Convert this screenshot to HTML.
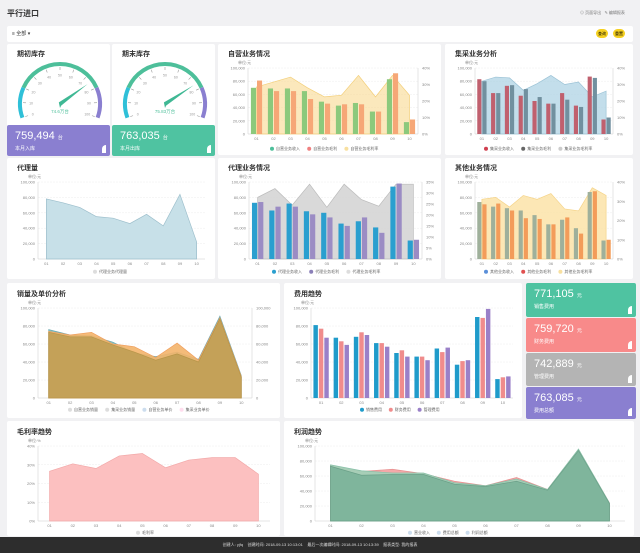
<!DOCTYPE html>
<html><head><meta charset="utf-8">
<style>
body{margin:0;width:640px;height:553px;background:#f1f1f3;font-family:"Liberation Sans","Noto Sans CJK SC",sans-serif;position:relative;overflow:hidden}
.card{position:absolute;background:#fff;border-radius:2px}
.t{position:absolute;font-size:7px;font-weight:bold;color:#333}
.kpi{position:absolute;color:#fff;border-radius:2px}
.kpi b{position:absolute;left:8px;top:5px;font-size:11px;font-weight:normal}
.kpi b small{font-size:5px}
.kpi span{position:absolute;left:8px;top:20px;font-size:5px}
.kpi i{position:absolute;right:4px;bottom:3px;width:4px;height:8px;background:#fff;border-radius:4px 0 0 0}
svg{position:absolute;left:0;top:0}
</style></head><body>
<div class="t" style="left:7px;top:8px;font-size:8px">平行进口</div>
<div style="position:absolute;left:580px;top:10px;font-size:4px;color:#777">⊙ 页面导出 &nbsp; ✎ 编辑报表</div>
<div class="card" style="left:7px;top:26px;width:626px;height:16px"></div>
<div style="position:absolute;left:12px;top:30px;font-size:5px;color:#333">≡ 全部 ▾</div>
<div style="position:absolute;left:596px;top:29px;width:12px;height:9px;background:#f5d020;border-radius:5px;font-size:4px;text-align:center;line-height:9px">查询</div>
<div style="position:absolute;left:613px;top:29px;width:12px;height:9px;background:#f5d020;border-radius:5px;font-size:4px;text-align:center;line-height:9px">重置</div>

<div class="card" style="left:7px;top:44px;width:103px;height:112px"></div>
<div class="card" style="left:112px;top:44px;width:103px;height:112px"></div>
<div class="card" style="left:218px;top:44px;width:223px;height:111px"></div>
<div class="card" style="left:445px;top:44px;width:188px;height:111px"></div>
<div class="card" style="left:7px;top:158px;width:208px;height:121px"></div>
<div class="card" style="left:218px;top:158px;width:223px;height:121px"></div>
<div class="card" style="left:445px;top:158px;width:188px;height:121px"></div>
<div class="card" style="left:7px;top:283px;width:273px;height:135px"></div>
<div class="card" style="left:284px;top:283px;width:238px;height:135px"></div>
<div class="card" style="left:7px;top:421px;width:273px;height:115px"></div>
<div class="card" style="left:284px;top:421px;width:350px;height:115px"></div>

<div class="t" style="left:17px;top:49px">期初库存</div>
<div class="t" style="left:122px;top:49px">期末库存</div>
<div class="t" style="left:228px;top:49px">自营业务情况</div>
<div class="t" style="left:455px;top:49px">集采业务分析</div>
<div class="t" style="left:17px;top:163px">代理量</div>
<div class="t" style="left:228px;top:163px">代理业务情况</div>
<div class="t" style="left:455px;top:163px">其他业务情况</div>
<div class="t" style="left:17px;top:289px">销量及单价分析</div>
<div class="t" style="left:294px;top:289px">费用趋势</div>
<div class="t" style="left:17px;top:427px">毛利率趋势</div>
<div class="t" style="left:294px;top:427px">利润趋势</div>

<div class="kpi" style="left:7px;top:125px;width:103px;height:31px;background:#8a7fd0"><b>759,494 <small>台</small></b><span>本月入库</span><i></i></div>
<div class="kpi" style="left:112px;top:125px;width:103px;height:31px;background:#4fc3a1"><b>763,035 <small>台</small></b><span>本月出库</span><i></i></div>
<div class="kpi" style="left:526px;top:283px;width:110px;height:34px;background:#4fc3a1"><b>771,105 <small>元</small></b><span>销售费用</span><i></i></div>
<div class="kpi" style="left:526px;top:318px;width:110px;height:34px;background:#f88a8a"><b>759,720 <small>元</small></b><span>财务费用</span><i></i></div>
<div class="kpi" style="left:526px;top:353px;width:110px;height:33px;background:#b4b4b4"><b>742,889 <small>元</small></b><span>管理费用</span><i></i></div>
<div class="kpi" style="left:526px;top:387px;width:110px;height:32px;background:#8a7fd0"><b>763,085 <small>元</small></b><span>费用总额</span><i></i></div>

<div style="position:absolute;left:0;top:537px;width:640px;height:16px;background:#2d2d2d;color:#ddd;font-size:4px;text-align:center;line-height:16px">创建人: yjfq &nbsp;&nbsp; 创建时间: 2018-09-13 10:13:01 &nbsp;&nbsp; 最后一次编辑时间: 2018-09-13 10:13:39 &nbsp;&nbsp; 报表类型: 我的报表</div>

<svg id="charts" width="640" height="553"></svg>
<script>
const cats=['01','02','03','04','05','06','07','08','09','10'];
const numTicks=['0','20,000','40,000','60,000','80,000','100,000'];
const pct40Ticks=['0%','10%','20%','30%','40%'];
const pct35Ticks=['0%','5%','10%','15%','20%','25%','30%','35%'];
const gaugeValues=[74.6,75.83];
const gaugeTicks=['0','10','20','30','40','50','60','70','80','90','100'];
const selfIncome=[70,69,69,65,49,43,47,34,83,18];
const selfCost=[81,65,65,53,46,45,45,34,92,22];
const selfMargin=[28.5,31.5,34.5,28,22.5,23.5,35.5,22.5,35.5,23.5];
const cpIncome=[83,62,73,58,50,46,62,43,87,22];
const cpCost=[80,62,74,68,56,46,52,41,85,25];
const cpMargin=[32,34.5,34,26.5,30.5,35.5,30,31.5,22.5,26];
const agencyVolume=[78,73,67,55,53,46,58,43,84,22];
const agIncome=[73,63,72,62,60,46,49,41,94,24];
const agCost=[74,68,68,58,54,43,54,34,98,25];
const agMargin=[28,32,24.5,34,23.5,34,27,24,34,34];
const otIncome=[74,68,66,63,57,45,51,40,87,24];
const otCost=[71,72,63,53,52,45,54,33,88,25];
const otMargin=[31,32,27,33,31,34,26,25,37,33];
const salesA=[76,70,69,62,50,46,51,43,91,25];
const salesB=[74,70,73,60,57,45,61,42,89,24];
const salesC=[73,68,68,59,51,42,49,40,88,23];
const expSales=[81,67,68,61,50,46,55,37,90,21];
const expFin=[77,63,73,61,53,46,51,41,89,23];
const expAdm=[67,59,70,57,46,42,56,42,99,24];
const marginRate=[26.5,30.5,28,34.7,36,28.4,32.5,33.8,33.8,25];
const profitA=[75,67,64,64,51,47,56,42,96,24];
const profitB=[74,66,69,63,53,47,58,42,95,24];
const profitC=[73,61,62,62,49,46,53,41,94,23];

const NS='http://www.w3.org/2000/svg';
const svg=document.getElementById('charts');
function mk(tag,attrs,parent){const e=document.createElementNS(NS,tag);for(const k in attrs)e.setAttribute(k,attrs[k]);(parent||svg).appendChild(e);return e;}
function xc(b,i){return b.l+(i+0.5)*(b.r-b.l)/cats.length;}
function yv(b,v,m){return b.b-v/m*(b.b-b.t);}
function axes(b,left,right){
  const g=mk('g',{});
  
  
  left.forEach((lab,i)=>{
    const y=b.b-i*(b.b-b.t)/(left.length-1);
    const ln=mk('line',{x1:b.l,x2:b.r,y1:y,y2:y,stroke:i?'#eee':'#ccc','stroke-width':0.5,'stroke-dasharray':i?'2,1':''},g);
    
    
    const t=mk('text',{x:b.l-3,y:y+1.5,'font-size':4,'text-anchor':'end',fill:'#888'},g);t.textContent=lab;
    
    
  });
  if(right){right.forEach((lab,i)=>{
    const y=b.b-i*(b.b-b.t)/(right.length-1);
    const t=mk('text',{x:b.r+4,y:y+1.5,'font-size':4,fill:'#888'},g);t.textContent=lab;
    
    
  });
  const rl=mk('line',{x1:b.r,x2:b.r,y1:b.t,y2:b.b,stroke:'#ccc','stroke-width':0.5},g);
  
  }
  const al=mk('line',{x1:b.l,x2:b.l,y1:b.t,y2:b.b,stroke:'#ccc','stroke-width':0.5},g);
  
  
  cats.forEach((c,i)=>{const t=mk('text',{x:xc(b,i),y:b.b+6,'font-size':4,'text-anchor':'middle',fill:'#888'},g);t.textContent=c;
    
    });
  const u=mk('text',{x:b.l-10,y:b.t-4,'font-size':4,fill:'#888'},g);u.textContent=b.unit||'单位:元';
  
  
}
function bars(b,vals,k,n,color,name,m){
  const gw=(b.r-b.l)/cats.length, bw=gw*(n==3?0.22:0.3);
  vals.forEach((v,i)=>{
    const x=xc(b,i)-n*bw/2-(n-1)*0.5+k*(bw+1);
    const r=mk('rect',{x:x,y:yv(b,v,m||100),width:bw,height:b.b-yv(b,v,m||100),fill:color});
    
    
  });
}
function area(b,vals,m,fill,stroke,op,name){
  let d='M'+xc(b,0)+','+b.b;
  vals.forEach((v,i)=>{d+=' L'+xc(b,i)+','+yv(b,v,m);});
  d+=' L'+xc(b,vals.length-1)+','+b.b+' Z';
  const p=mk('path',{d:d,fill:fill,'fill-opacity':op,stroke:stroke,'stroke-width':0.7});
  
  
}
function legend(x,y,items){
  let cx=x;
  items.forEach(it=>{
    const c=mk('circle',{cx:cx,cy:y-1.3,r:2,fill:it[1]});
    
    
    const t=mk('text',{x:cx+4,y:y,'font-size':4,fill:'#666'});t.textContent=it[0];
    
    
    cx+=it[0].length*4.2+12;
  });
}
// gauges
[[60,104,0],[165,104,1]].forEach(([cx,cy,k])=>{
  const r=40, a0=200, a1=-20, v=gaugeValues[k];
  const pt=(a,rr)=>[cx+rr*Math.cos(a*Math.PI/180),cy-rr*Math.sin(a*Math.PI/180)];
  const segs=[[0,0.2,'#2fc0d8'],[0.2,0.8,'#4dbf9a'],[0.8,1,'#8a7fd0']];
  segs.forEach(s=>{const p0=pt(a0-(a0-a1)*s[0],r),p1=pt(a0-(a0-a1)*s[1],r);
    const arc=mk('path',{d:`M${p0[0]},${p0[1]} A${r},${r} 0 0 1 ${p1[0]},${p1[1]}`,fill:'none',stroke:s[2],'stroke-width':4});
    
    });
  gaugeTicks.forEach((tk,i)=>{const a=a0-(a0-a1)*i/10,p0=pt(a,r-3),p1=pt(a,r-6),pl=pt(a,r-11);
    const l=mk('line',{x1:p0[0],y1:p0[1],x2:p1[0],y2:p1[1],stroke:'#999','stroke-width':0.6});
    
    
    const t=mk('text',{x:pl[0],y:pl[1]+1.5,'font-size':3.5,'text-anchor':'middle',fill:'#999'});t.textContent=tk;
    
    });
  const a=a0-(a0-a1)*v/100,tip=pt(a,r-6),s1=pt(a+90,2),s2=pt(a-90,2);
  const n=mk('path',{d:`M${tip[0]},${tip[1]} L${s1[0]},${s1[1]} L${cx},${cy+4} L${s2[0]},${s2[1]} Z`,fill:'#3fb894'});
  
  
  const t=mk('text',{x:cx,y:cy+9,'font-size':4.5,'text-anchor':'middle',fill:'#4dbf9a'});t.textContent=v+'万台';
  
  
});
// C1
let b={l:248,r:418,t:68,b:134,name:'self'};
axes(b,numTicks,pct40Ticks);
area(b,selfMargin,40,'#f8d98f','#f3cf7a',0.6,'self-margin');
bars(b,selfIncome,0,2,'#8cc97c','self-income');
bars(b,selfCost,1,2,'#f6a777','self-cost');
legend(272,150,[['自营业务收入','#4dbf9a'],['自营业务毛利','#f08080'],['自营业务毛利率','#f8e0a0']]);
// C2
b={l:475,r:613,t:68,b:134,name:'central'};
axes(b,numTicks,pct40Ticks);
area(b,cpMargin,40,'#a9d0e2','#9cc3d6',0.7,'central-margin');
bars(b,cpIncome,0,2,'#c0606e','central-income');
bars(b,cpCost,1,2,'#71909f','central-cost');
legend(486,150,[['集采业务收入','#d04050'],['集采业务毛利','#666'],['集采业务毛利率','#ccc']]);
// C3
b={l:38,r:205,t:182,b:259,name:'agency-volume'};
axes(b,numTicks);
area(b,agencyVolume,100,'#c7e0e8','#9dbfcc',1,'agency-volume');
legend(95,273,[['代理业务代理量','#ddd']]);
// C4
b={l:249,r:422,t:182,b:259,name:'agency'};
axes(b,numTicks,pct35Ticks);
area(b,agMargin,35,'#cfcfcf','#bbb',0.8,'agency-margin');
bars(b,agIncome,0,2,'#2a9fcf','agency-income');
bars(b,agCost,1,2,'#9b8cc4','agency-cost');
legend(274,273,[['代理业务收入','#2a9fcf'],['代理业务毛利','#8a7fb8'],['代理业务毛利率','#ddd']]);
// C5
b={l:475,r:613,t:182,b:259,name:'other'};
axes(b,numTicks,pct40Ticks);
area(b,otMargin,40,'#fbe1a3','#f5d48a',0.8,'other-margin');
bars(b,otIncome,0,2,'#9fb09b','other-income');
bars(b,otCost,1,2,'#f39c5a','other-cost');
legend(486,273,[['其他业务收入','#5b8fd9'],['其他业务毛利','#e05050'],['其他业务毛利率','#f8e0a0']]);
// C6
b={l:38,r:252,t:308,b:398,name:'sales'};
axes(b,numTicks,numTicks);
area(b,salesA,100,'#7cc0bd','#6aa8b0',0.9,'sales-self-volume');
area(b,salesB,100,'#f3b46a','#f0a060',0.9,'sales-central-volume');
area(b,salesC,100,'#c4a158','#b89548',1,'sales-unit-price');
legend(70,411,[['自营业务销量','#ddd'],['集采业务销量','#ddd'],['自营业务单价','#cde'],['集采业务单价','#fde']]);
// C7
b={l:311,r:513,t:308,b:398,name:'expense'};
axes(b,numTicks);
bars(b,expSales,0,3,'#1f9bca','expense-sales');
bars(b,expFin,1,3,'#f08c8c','expense-finance');
bars(b,expAdm,2,3,'#9a80c8','expense-admin');
legend(362,411,[['销售费用','#1f9bca'],['财务费用','#f08c8c'],['管理费用','#9a80c8']]);
// C8
b={l:38,r:270,t:446,b:521,name:'margin',unit:'单位:%'};
axes(b,pct40Ticks);
area(b,marginRate,40,'#fcc0c0','#f2a8a8',1,'margin-rate');
legend(138,534,[['毛利率','#ddd']]);
// C9
b={l:315,r:625,t:446,b:521,name:'profit'};
axes(b,numTicks);
area(b,profitB,100,'#f3a0a0','#e89090',0.9,'profit-expense');
area(b,profitA,100,'#9fd2b8','#88c0a8',0.9,'profit-income');
area(b,profitC,100,'#7fb59c','#6aa088',1,'profit-total');
legend(410,534,[['营业收入','#cde'],['费用总额','#cde'],['利润总额','#cde']]);
</script>
</body></html>
